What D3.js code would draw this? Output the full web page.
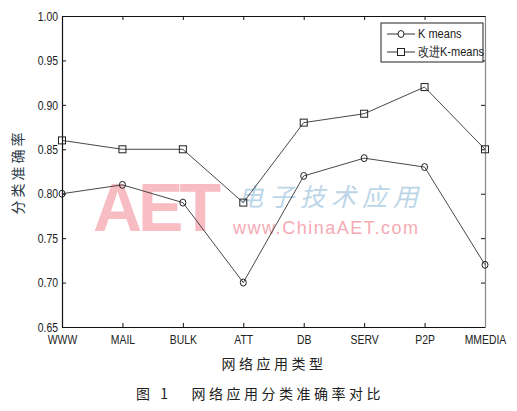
<!DOCTYPE html>
<html>
<head>
<meta charset="utf-8">
<script src="https://cdn.jsdelivr.net/npm/d3@7"></script>
<style>
body{margin:0;background:#fff;}
svg{display:block;}
.tick text{font-family:"Liberation Sans Narrow","Arial Narrow","Liberation Sans",sans-serif;font-size:13px;fill:#222;}
</style>
</head>
<body>
<svg></svg>
<script>
var categories=["WWW","MAIL","BULK","ATT","DB","SERV","P2P","MMEDIA"]
var kmeans=[0.80,0.81,0.79,0.70,0.82,0.84,0.83,0.72]
var improved=[0.86,0.85,0.85,0.79,0.88,0.89,0.92,0.85]
var yTicks=[0.65,0.70,0.75,0.80,0.85,0.90,0.95,1.00]
var seriesNames=["K means","改进K-means"]

var screen={width:517,height:411}
var margins={top:16,right:32,bottom:84,left:62}
var width=screen.width-margins.left-margins.right
var height=screen.height-margins.top-margins.bottom
var squeeze=0.8

var svg=d3.select("svg")
.attr("width",screen.width)
.attr("height",screen.height)

// watermark
var wm=svg.append("g").attr("id","watermark")
wm.append("text")
.attr("x",93).attr("y",231)
.style("font-family","Liberation Sans,sans-serif")
.style("font-weight","bold")
.style("font-size","68px")
.attr("textLength",128)
.attr("fill","#f8bcc3")
.text("AET")
wm.append("text")
.attr("x",238).attr("y",206)
.style("font-family","Noto Sans CJK SC")
.style("font-size","25px")
.style("font-style","italic")
.attr("textLength",180)
.attr("fill","#bcd6e8")
.text("电子技术应用")
wm.append("text")
.attr("x",233).attr("y",234)
.style("font-family","Liberation Sans,sans-serif")
.style("font-size","18px")
.attr("textLength",185)
.attr("fill","#f6aab4")
.text("www.ChinaAET.com")

var graph=svg.append("g")
.attr("id","graph")
.attr("transform","translate("+margins.left+","+margins.top+")")

var xScale=d3.scalePoint()
.domain(categories)
.range([0,width])

var yScale=d3.scaleLinear()
.domain([0.65,1.00])
.range([height,0])

var xAxis=d3.axisBottom(xScale).tickSizeInner(-4).tickSizeOuter(0).tickPadding(8)
var yAxis=d3.axisLeft(yScale).tickValues(yTicks).tickFormat(d3.format(".2f")).tickSizeInner(-4).tickSizeOuter(0).tickPadding(4)
var xTop=d3.axisTop(xScale).tickSizeInner(-4).tickSizeOuter(0).tickFormat("")
var yRight=d3.axisRight(yScale).tickValues(yTicks).tickSizeInner(-4).tickSizeOuter(0).tickFormat("")

graph.append("g").attr("id","xAxis").attr("transform","translate(0,"+height+")").call(xAxis)
graph.append("g").attr("id","yAxis").call(yAxis)
graph.append("g").call(xTop)
graph.append("g").attr("id","rightAxis").attr("transform","translate("+width+",0)").call(yRight)

// narrow look for tick labels
graph.selectAll("#xAxis .tick text").attr("transform","scale("+squeeze+",1)")
graph.selectAll("#yAxis .tick text")
.attr("x",-4/squeeze)
.attr("transform","scale("+squeeze+",1)")

graph.selectAll(".domain").attr("stroke","#111").attr("stroke-width",1.2)
graph.selectAll(".tick line").attr("stroke","#111")
graph.select("#rightAxis .domain").attr("stroke","#888")

var line=d3.line()
.x(function(d,i){return xScale(categories[i])})
.y(function(d){return yScale(d)})

graph.append("path")
.datum(kmeans)
.attr("fill","none")
.attr("stroke","#333")
.attr("stroke-width",0.9)
.attr("d",line)

graph.append("path")
.datum(improved)
.attr("fill","none")
.attr("stroke","#333")
.attr("stroke-width",0.9)
.attr("d",line)

graph.selectAll(".kmark")
.data(kmeans)
.enter()
.append("ellipse")
.attr("cx",function(d,i){return xScale(categories[i])})
.attr("cy",function(d){return yScale(d)})
.attr("rx",3)
.attr("ry",3.5)
.attr("fill","none")
.attr("stroke","#222")

graph.selectAll(".imark")
.data(improved)
.enter()
.append("rect")
.attr("x",function(d,i){return xScale(categories[i])-3.5})
.attr("y",function(d){return yScale(d)-3.5})
.attr("width",7)
.attr("height",7)
.attr("fill","none")
.attr("stroke","#222")

// legend
var legend=graph.append("g").attr("transform","translate(319,7)")
legend.append("rect")
.attr("width",102).attr("height",39)
.attr("fill","#fff").attr("stroke","#222")
seriesNames.forEach(function(name,i){
  var y=11+i*18
  legend.append("line").attr("x1",6).attr("x2",34).attr("y1",y).attr("y2",y).attr("stroke","#333")
  if(i==0){
    legend.append("ellipse").attr("cx",20).attr("cy",y).attr("rx",3).attr("ry",3.5).attr("fill","#fff").attr("stroke","#222")
  }else{
    legend.append("rect").attr("x",16.5).attr("y",y-3.5).attr("width",7).attr("height",7).attr("fill","#fff").attr("stroke","#222")
  }
  legend.append("text")
  .attr("x",37/0.85).attr("y",y+4.5)
  .attr("transform","scale(0.85,1)")
  .style("font-family","Liberation Sans Narrow,Arial Narrow,sans-serif")
  .style("font-size","13px")
  .attr("fill","#222")
  .text(name)
})

// axis titles
svg.append("text")
.attr("transform","translate(23,172) rotate(-90)")
.attr("text-anchor","middle")
.style("font-family","Noto Sans CJK SC")
.style("font-size","14px")
.style("letter-spacing","3px")
.attr("fill","#2b3a48")
.text("分类准确率")

svg.append("text")
.attr("x",274).attr("y",369)
.attr("text-anchor","middle")
.style("font-family","Noto Sans CJK SC")
.style("font-size","14px")
.style("letter-spacing","3.5px")
.attr("fill","#222")
.text("网络应用类型")

svg.append("text")
.attr("x",260).attr("y",399)
.attr("text-anchor","middle")
.style("font-family","Noto Sans CJK SC")
.style("font-size","14px")
.style("letter-spacing","3.5px")
.style("white-space","pre")
.attr("fill","#222")
.text("图 1   网络应用分类准确率对比")
</script>
</body>
</html>
